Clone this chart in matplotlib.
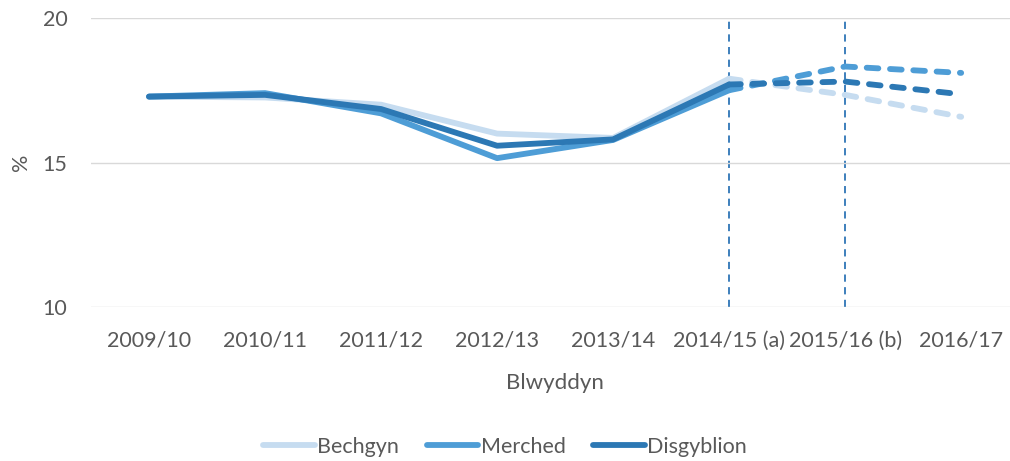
import matplotlib
matplotlib.use("Agg")
import matplotlib.pyplot as plt

# data
years = ["2009/10", "2010/11", "2011/12", "2012/13", "2013/14",
         "2014/15 (a)", "2015/16 (b)", "2016/17"]
bechgyn = [17.28, 17.25, 17.0, 16.0, 15.85, 17.9, 17.34, 16.58]
merched = [17.28, 17.4, 16.7, 15.15, 15.78, 17.5, 18.32, 18.1]
disgyblion = [17.28, 17.34, 16.85, 15.58, 15.8, 17.7, 17.8, 17.36]
split = 5  # last solid point (2014/15); dashed afterwards
breaks = [5, 6]  # vertical dashed lines

plt.rcParams['font.family'] = ['Lato', 'DejaVu Sans']
grey = '#595959'

fig = plt.figure(figsize=(10.1, 4.61), dpi=100)
ax = fig.add_axes([0.0901, 0.334, 0.919, 0.627])

series = [("Bechgyn", bechgyn, '#c6dcf0'),
          ("Merched", merched, '#4e9dd6'),
          ("Disgyblion", disgyblion, '#2c78b4')]
x = list(range(len(years)))
for name, vals, col in series:
    ax.plot(x[:split + 1], vals[:split + 1], color=col, lw=4.2,
            solid_capstyle='round', solid_joinstyle='round', label=name)
    ax.plot(x[split:], vals[split:], color=col, lw=4.2, ls=(0, (2.0, 2.0)),
            dash_capstyle='round')

for b in breaks:
    ax.axvline(b, color='#2e75b6', lw=1.3, ls=(0, (4, 3)), zorder=0.5)

ax.set_xlim(-0.5, len(years) - 0.5)
ax.set_ylim(10, 20)
ax.set_yticks([10, 15, 20])
ax.set_xticks(x)
ax.set_xticklabels(years)
ax.yaxis.grid(True, color='#d9d9d9', lw=1)
ax.set_axisbelow(True)
for s in ax.spines.values():
    s.set_visible(False)
ax.tick_params(length=0, labelsize=15.5, colors=grey)
ax.tick_params(axis='x', pad=17)
ax.tick_params(axis='y', pad=17)
ax.set_xlabel("Blwyddyn", fontsize=16, color=grey, labelpad=16)
ax.set_ylabel("%", fontsize=15.5, color=grey, labelpad=8)

fig.legend(loc='lower center', bbox_to_anchor=(0.5, -0.033), ncol=3,
           frameon=False, fontsize=15.5, labelcolor=grey, handlelength=2.4,
           handletextpad=0.1, columnspacing=1.3)

fig.savefig("out.png", dpi=100)
